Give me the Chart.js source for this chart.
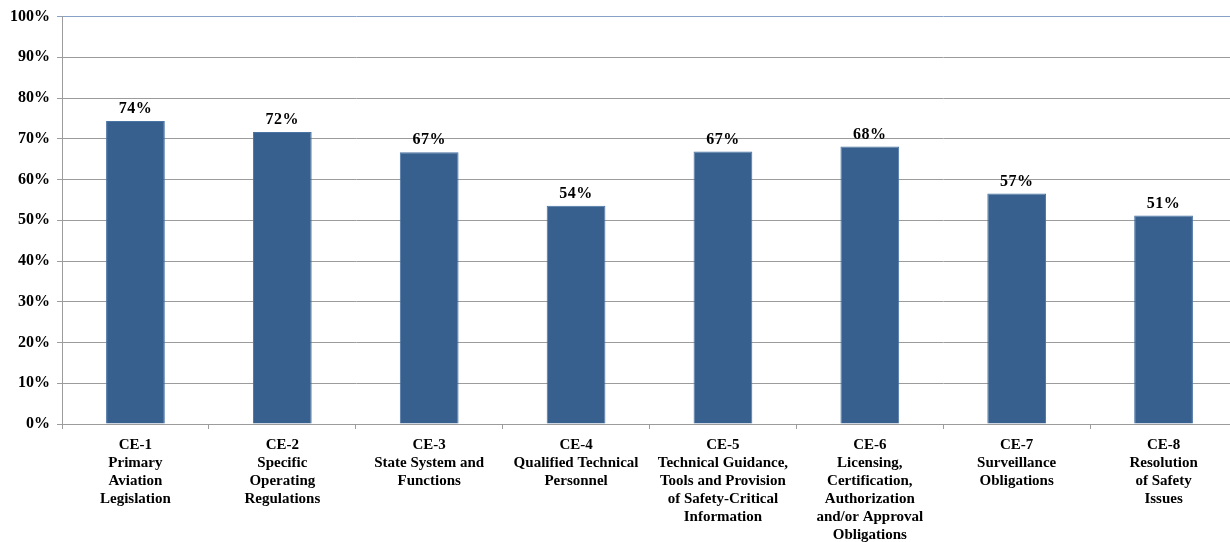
<!DOCTYPE html>
<html>
<head>
<meta charset="utf-8">
<script src="https://cdn.jsdelivr.net/npm/chart.js@4"></script>
<style>
  html, body { margin: 0; padding: 0; background: #fff; overflow: hidden; }
  #wrap { width: 1237px; height: 542px; }
</style>
</head>
<body>
<div id="wrap"><canvas id="myChart" width="1237" height="542"></canvas></div>
<script>
const categories = [
  ['CE-1', 'Primary', 'Aviation', 'Legislation'],
  ['CE-2', 'Specific', 'Operating', 'Regulations'],
  ['CE-3', 'State System and', 'Functions'],
  ['CE-4', 'Qualified Technical', 'Personnel'],
  ['CE-5', 'Technical Guidance,', 'Tools and Provision', 'of Safety-Critical', 'Information'],
  ['CE-6', 'Licensing,', 'Certification,', 'Authorization', 'and/or Approval', 'Obligations'],
  ['CE-7', 'Surveillance', 'Obligations'],
  ['CE-8', 'Resolution', 'of Safety', 'Issues']
];
const values = [74.4, 71.7, 66.7, 53.6, 66.9, 68.1, 56.6, 51.2];
const valueLabels = ['74%', '72%', '67%', '54%', '67%', '68%', '57%', '51%'];
const yTicks = [0, 10, 20, 30, 40, 50, 60, 70, 80, 90, 100];

const serif = '"Liberation Serif", "Times New Roman", serif';
const gridGray = '#9c9c9c';

// draw the value above each bar
const barLabels = {
  id: 'barLabels',
  afterDatasetsDraw(chart) {
    const ctx = chart.ctx;
    const meta = chart.getDatasetMeta(0);
    ctx.save();
    ctx.font = 'bold 16px ' + serif;
    ctx.letterSpacing = '0.5px';
    ctx.fillStyle = '#000';
    ctx.textAlign = 'center';
    ctx.textBaseline = 'bottom';
    meta.data.forEach((bar, i) => {
      ctx.fillText(valueLabels[i], bar.x, bar.y - 4);
    });
    ctx.restore();
  }
};

const ctx = document.getElementById('myChart').getContext('2d');
const myChart = new Chart(ctx, {
  type: 'bar',
  data: {
    labels: categories,
    datasets: [{
      data: values,
      backgroundColor: '#37608f',
      borderColor: '#4a74a4',
      borderWidth: 1,
      barPercentage: 0.4,
      categoryPercentage: 1
    }]
  },
  options: {
    responsive: false,
    animation: false,
    layout: { padding: { top: 12, left: 0, right: 0, bottom: 0 } },
    plugins: {
      legend: { display: false },
      tooltip: { enabled: false }
    },
    scales: {
      x: {
        grid: {
          offset: true,
          drawOnChartArea: false,
          drawTicks: true,
          tickLength: 5,
          color: gridGray
        },
        border: { color: gridGray, width: 1 },
        ticks: {
          color: '#000',
          maxRotation: 0,
          autoSkip: false,
          padding: 7,
          font: { family: serif, size: 15, weight: 'bold', lineHeight: 1.2 }
        },
        afterFit(scale) { scale.height = 118; }
      },
      y: {
        min: 0,
        max: 100,
        afterBuildTicks(scale) { scale.ticks = yTicks.map(v => ({ value: v })); },
        grid: {
          color: (c) => c.tick && c.tick.value === 100 ? '#86a2c6' : gridGray,
          tickLength: 5,
          lineWidth: 1
        },
        border: { color: gridGray, width: 1 },
        ticks: {
          color: '#000',
          padding: 7,
          callback: (v) => v + '%',
          font: { family: serif, size: 16, weight: 'bold' }
        },
        afterFit(scale) { scale.width = 62; }
      }
    }
  },
  plugins: [barLabels]
});
</script>
</body>
</html>
